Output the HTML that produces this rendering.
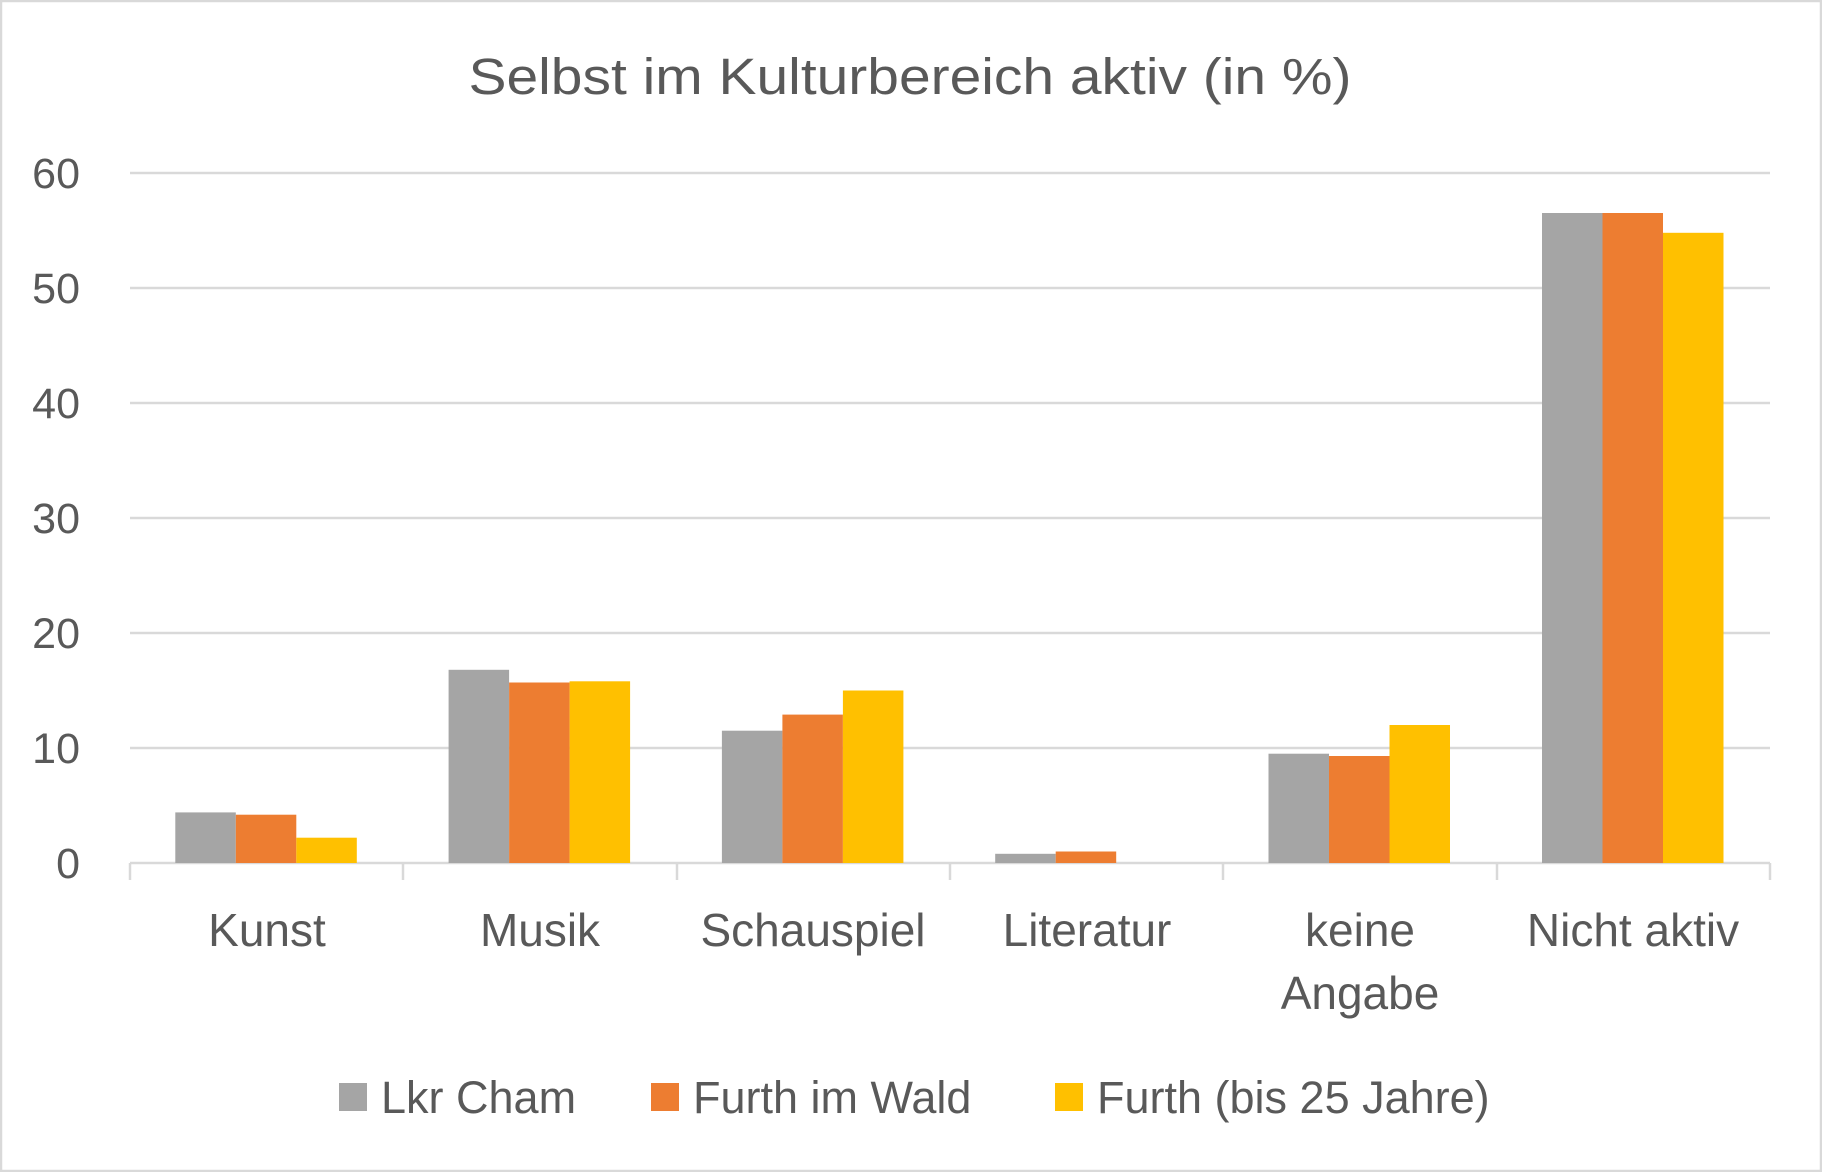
<!DOCTYPE html>
<html><head><meta charset="utf-8"><style>
html,body{margin:0;padding:0;background:#fff;}
svg{display:block;}
text{font-family:"Liberation Sans",sans-serif;fill:#595959;}
</style></head><body>
<svg width="1822" height="1172" viewBox="0 0 1822 1172" xmlns="http://www.w3.org/2000/svg">
<rect x="1" y="1" width="1820" height="1170" fill="#fff" stroke="#d9d9d9" stroke-width="2.5"/>
<text x="910" y="94" font-size="51" text-anchor="middle" textLength="883" lengthAdjust="spacingAndGlyphs">Selbst im Kulturbereich aktiv (in %)</text>
<g stroke="#d9d9d9" stroke-width="2.5">
<line x1="130" y1="173" x2="1770" y2="173"/>
<line x1="130" y1="288" x2="1770" y2="288"/>
<line x1="130" y1="403" x2="1770" y2="403"/>
<line x1="130" y1="518" x2="1770" y2="518"/>
<line x1="130" y1="633" x2="1770" y2="633"/>
<line x1="130" y1="748" x2="1770" y2="748"/>
</g>
<g font-size="43" text-anchor="end">
<text x="80" y="188">60</text>
<text x="80" y="303">50</text>
<text x="80" y="418">40</text>
<text x="80" y="533">30</text>
<text x="80" y="648">20</text>
<text x="80" y="763">10</text>
<text x="80" y="878">0</text>
</g>
<g stroke="#d9d9d9" stroke-width="2.5">
<line x1="130" y1="863" x2="1770" y2="863"/>
<line x1="130" y1="863" x2="130" y2="880"/>
<line x1="403" y1="863" x2="403" y2="880"/>
<line x1="677" y1="863" x2="677" y2="880"/>
<line x1="950" y1="863" x2="950" y2="880"/>
<line x1="1223" y1="863" x2="1223" y2="880"/>
<line x1="1497" y1="863" x2="1497" y2="880"/>
<line x1="1770" y1="863" x2="1770" y2="880"/>
</g>
<g font-size="46" text-anchor="middle">
<text x="267" y="946">Kunst</text>
<text x="540" y="946">Musik</text>
<text x="813" y="946">Schauspiel</text>
<text x="1087" y="946">Literatur</text>
<text x="1360" y="946">keine</text>
<text x="1360" y="1009">Angabe</text>
<text x="1633" y="946">Nicht aktiv</text>
</g>
<rect x="339" y="1083" width="28" height="28" fill="#a5a5a5"/>
<text x="381" y="1113" font-size="45">Lkr Cham</text>
<rect x="651" y="1083" width="28" height="28" fill="#ed7d31"/>
<text x="693" y="1113" font-size="45">Furth im Wald</text>
<rect x="1055" y="1083" width="28" height="28" fill="#ffc000"/>
<text x="1097" y="1113" font-size="45">Furth (bis 25 Jahre)</text>
<g>
<rect x="175.3" y="812.4" width="60.5" height="50.6" fill="#a5a5a5"/>
<rect x="235.8" y="814.7" width="60.5" height="48.3" fill="#ed7d31"/>
<rect x="296.3" y="837.7" width="60.5" height="25.3" fill="#ffc000"/>

<rect x="448.6" y="669.8" width="60.5" height="193.2" fill="#a5a5a5"/>
<rect x="509.1" y="682.5" width="60.5" height="180.5" fill="#ed7d31"/>
<rect x="569.6" y="681.3" width="60.5" height="181.7" fill="#ffc000"/>

<rect x="721.9" y="730.7" width="60.5" height="132.3" fill="#a5a5a5"/>
<rect x="782.4" y="714.6" width="60.5" height="148.4" fill="#ed7d31"/>
<rect x="842.9" y="690.5" width="60.5" height="172.5" fill="#ffc000"/>

<rect x="995.2" y="853.8" width="60.5" height="9.2" fill="#a5a5a5"/>
<rect x="1055.7" y="851.5" width="60.5" height="11.5" fill="#ed7d31"/>

<rect x="1268.5" y="753.7" width="60.5" height="109.3" fill="#a5a5a5"/>
<rect x="1329" y="756" width="60.5" height="107" fill="#ed7d31"/>
<rect x="1389.5" y="725" width="60.5" height="138" fill="#ffc000"/>

<rect x="1542" y="213" width="60.5" height="650" fill="#a5a5a5"/>
<rect x="1602.5" y="213" width="60.5" height="650" fill="#ed7d31"/>
<rect x="1663" y="232.8" width="60.5" height="630.2" fill="#ffc000"/>
</g>
</svg>
</body></html>
